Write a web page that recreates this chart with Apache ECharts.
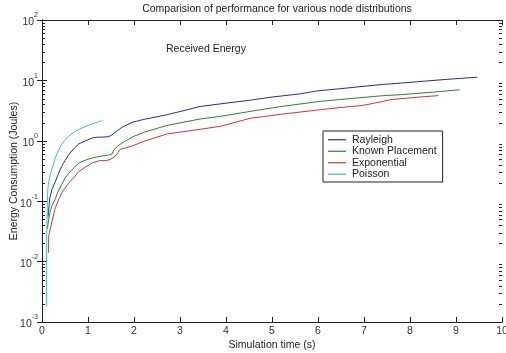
<!DOCTYPE html>
<html><head><meta charset="utf-8">
<script src="https://cdn.jsdelivr.net/npm/echarts@6/dist/echarts.min.js"></script>
<style>html,body{margin:0;padding:0;background:#fff}#c{width:506px;height:353px}</style>
</head><body><div id="c"></div>
<script>
const xTicks = [0,1,2,3,4,5,6,7,8,9,10];
const yDecadeExp = [-3,-2,-1,0,1,2];
const seriesNames = ['Rayleigh','Known Placement','Exponential','Poisson'];

const rayleighT = [0.13,0.14,0.17,0.22,0.29,0.36,0.43,0.5,0.58,0.7,0.8,0.95,1.09,1.2,1.3,1.45,1.52,1.59,1.75,1.96,2.2,2.5,2.72,3.0,3.44,4.0,4.53,5.0,5.62,5.98,6.5,7.0,7.43,7.79,8.3,8.8,9.46];
const rayleighE = [0.055,0.065,0.113,0.16,0.21,0.29,0.38,0.47,0.59,0.75,0.89,1.0,1.11,1.15,1.15,1.17,1.25,1.38,1.7,2.02,2.25,2.5,2.71,3.05,3.7,4.2,4.7,5.3,6.0,6.7,7.3,8.0,8.6,9.0,9.7,10.4,11.3];

const knownT = [0.12,0.13,0.17,0.22,0.29,0.36,0.43,0.5,0.58,0.7,0.8,0.95,1.09,1.3,1.45,1.52,1.56,1.65,1.74,2.0,2.21,2.72,3.44,3.88,4.53,5.2,6.05,6.7,7.43,7.79,8.4,9.08];
const knownE = [0.035,0.042,0.064,0.085,0.11,0.15,0.19,0.24,0.29,0.36,0.43,0.48,0.52,0.56,0.58,0.6,0.71,0.82,0.92,1.19,1.38,1.8,2.3,2.54,3.07,3.7,4.5,5.0,5.6,5.8,6.3,7.0];

const expT = [0.14,0.14,0.15,0.22,0.29,0.36,0.43,0.5,0.58,0.7,0.8,0.95,1.09,1.25,1.41,1.5,1.59,1.7,1.96,2.21,2.72,3.44,3.88,4.53,5.2,6.05,6.7,6.92,7.3,7.57,7.79,8.2,8.62];
const expE = [0.014,0.02,0.028,0.047,0.078,0.105,0.137,0.165,0.2,0.25,0.31,0.37,0.43,0.47,0.47,0.5,0.55,0.72,0.82,0.98,1.3,1.55,1.74,2.36,2.75,3.27,3.7,3.8,4.3,4.8,4.97,5.3,5.6];

const poissonT = [0.1,0.1,0.11,0.12,0.13,0.15,0.18,0.22,0.29,0.36,0.43,0.5,0.58,0.7,0.87,1.0,1.15,1.3];
const poissonE = [0.0018,0.02,0.06,0.12,0.17,0.22,0.28,0.35,0.52,0.7,0.88,1.02,1.19,1.4,1.63,1.8,1.98,2.15];

const colors = ['#2b2b9e','#2a862a','#dd3333','#33c4c4'];

const minorVals = [];
for (const e of [-3,-2,-1,0,1]) for (let m = 2; m <= 9; m++) minorVals.push(m * Math.pow(10, e));

const zip = (a, b) => a.map((v, i) => [v, b[i]]);
const font = 'Liberation Sans, Arial, sans-serif';
const chart = echarts.init(document.getElementById('c'));

function lineSeries(name, t, e, color) {
  return { name, type: 'line', data: zip(t, e), symbol: 'none', showSymbol: false,
    lineStyle: { color, width: 1 }, itemStyle: { color }, animation: false, xAxisIndex: 0, yAxisIndex: 0 };
}

chart.setOption({
  animation: false,
  backgroundColor: '#fff',
  textStyle: { fontFamily: font },
  title: [
    { text: 'Comparision of performance for various node distributions', left: 272, top: -1, textAlign: 'center',
      textStyle: { fontSize: 10.5, fontWeight: 'normal', color: '#222', fontFamily: font } },
    { text: 'Received Energy', left: 161, top: 39,
      textStyle: { fontSize: 10.5, fontWeight: 'normal', color: '#222', fontFamily: font } }
  ],
  grid: { left: 42, right: 4, top: 20, bottom: 31, show: false, outerBoundsMode: 'none', containLabel: false },
  legend: {
    data: seriesNames, orient: 'vertical', left: 323, top: 131, width: 115,
    backgroundColor: '#fff', borderColor: '#222', borderWidth: 1, padding: [3, 6, 2, 5],
    icon: 'rect', itemWidth: 18, itemHeight: 1.2, itemGap: 0,
    textStyle: { fontSize: 10.5, lineHeight: 11.5, color: '#222', fontFamily: font, padding: [0, 0, 0, 1] }
  },
  xAxis: [
    { type: 'value', min: 0, max: 10, interval: 1, position: 'bottom',
      name: 'Simulation time (s)', nameLocation: 'middle', nameGap: 18, nameMoveOverlap: false,
      nameTextStyle: { fontSize: 10.5, color: '#222', fontFamily: font },
      axisLine: { lineStyle: { color: '#222', width: 1 } },
      axisTick: { inside: true, length: 5, lineStyle: { color: '#222' } },
      axisLabel: { fontSize: 10.5, color: '#333', margin: 4, fontFamily: font },
      splitLine: { show: false } },
    { type: 'value', min: 0, max: 10, interval: 1, position: 'top',
      axisLine: { lineStyle: { color: '#222', width: 1 } },
      axisTick: { inside: true, length: 5, lineStyle: { color: '#222' } },
      axisLabel: { show: false }, splitLine: { show: false } }
  ],
  yAxis: [
    { type: 'log', logBase: 10, min: 0.001, max: 100, position: 'left',
      name: 'Energy Consumption (Joules)', nameLocation: 'middle', nameGap: 22, nameMoveOverlap: false,
      nameTextStyle: { fontSize: 10.5, color: '#222', fontFamily: font },
      axisLine: { lineStyle: { color: '#222', width: 1 } },
      axisTick: { inside: true, length: 5, lineStyle: { color: '#222' } },
      axisLabel: { margin: 4, fontFamily: font,
        formatter: v => { const e = Math.round(Math.log10(v)); return '{b|10}{s|' + e + '}'; },
        rich: { b: { fontSize: 10.5, color: '#333', fontFamily: font, padding: [5, 0, 0, 0] },
                s: { fontSize: 7, color: '#333', fontFamily: font, verticalAlign: 'top', padding: [0, 0, 0, 0] } } },
      splitLine: { show: false } },
    { type: 'log', logBase: 10, min: 0.001, max: 100, position: 'right',
      axisLine: { lineStyle: { color: '#222', width: 1 } },
      axisTick: { inside: true, length: 5, lineStyle: { color: '#222' } },
      axisLabel: { show: false }, splitLine: { show: false } }
  ],
  series: [
    lineSeries(seriesNames[0], rayleighT, rayleighE, colors[0]),
    lineSeries(seriesNames[1], knownT, knownE, colors[1]),
    lineSeries(seriesNames[2], expT, expE, colors[2]),
    lineSeries(seriesNames[3], poissonT, poissonE, colors[3]),
    { type: 'custom', silent: true, animation: false, clip: false, xAxisIndex: 0, yAxisIndex: 0,
      data: minorVals.map(v => [0, v]), encode: { x: 0, y: 1 }, z: 10,
      renderItem: (params, api) => {
        const v = api.value(1);
        const l = api.coord([0, v]);
        const r = api.coord([10, v]);
        const st = { stroke: '#222', lineWidth: 1 };
        return { type: 'group', children: [
          { type: 'line', shape: { x1: l[0], y1: Math.round(l[1]) + 0.5, x2: l[0] + 3, y2: Math.round(l[1]) + 0.5 }, style: st },
          { type: 'line', shape: { x1: r[0] - 3, y1: Math.round(r[1]) + 0.5, x2: r[0], y2: Math.round(r[1]) + 0.5 }, style: st }
        ] };
      } }
  ]
});
</script></body></html>
